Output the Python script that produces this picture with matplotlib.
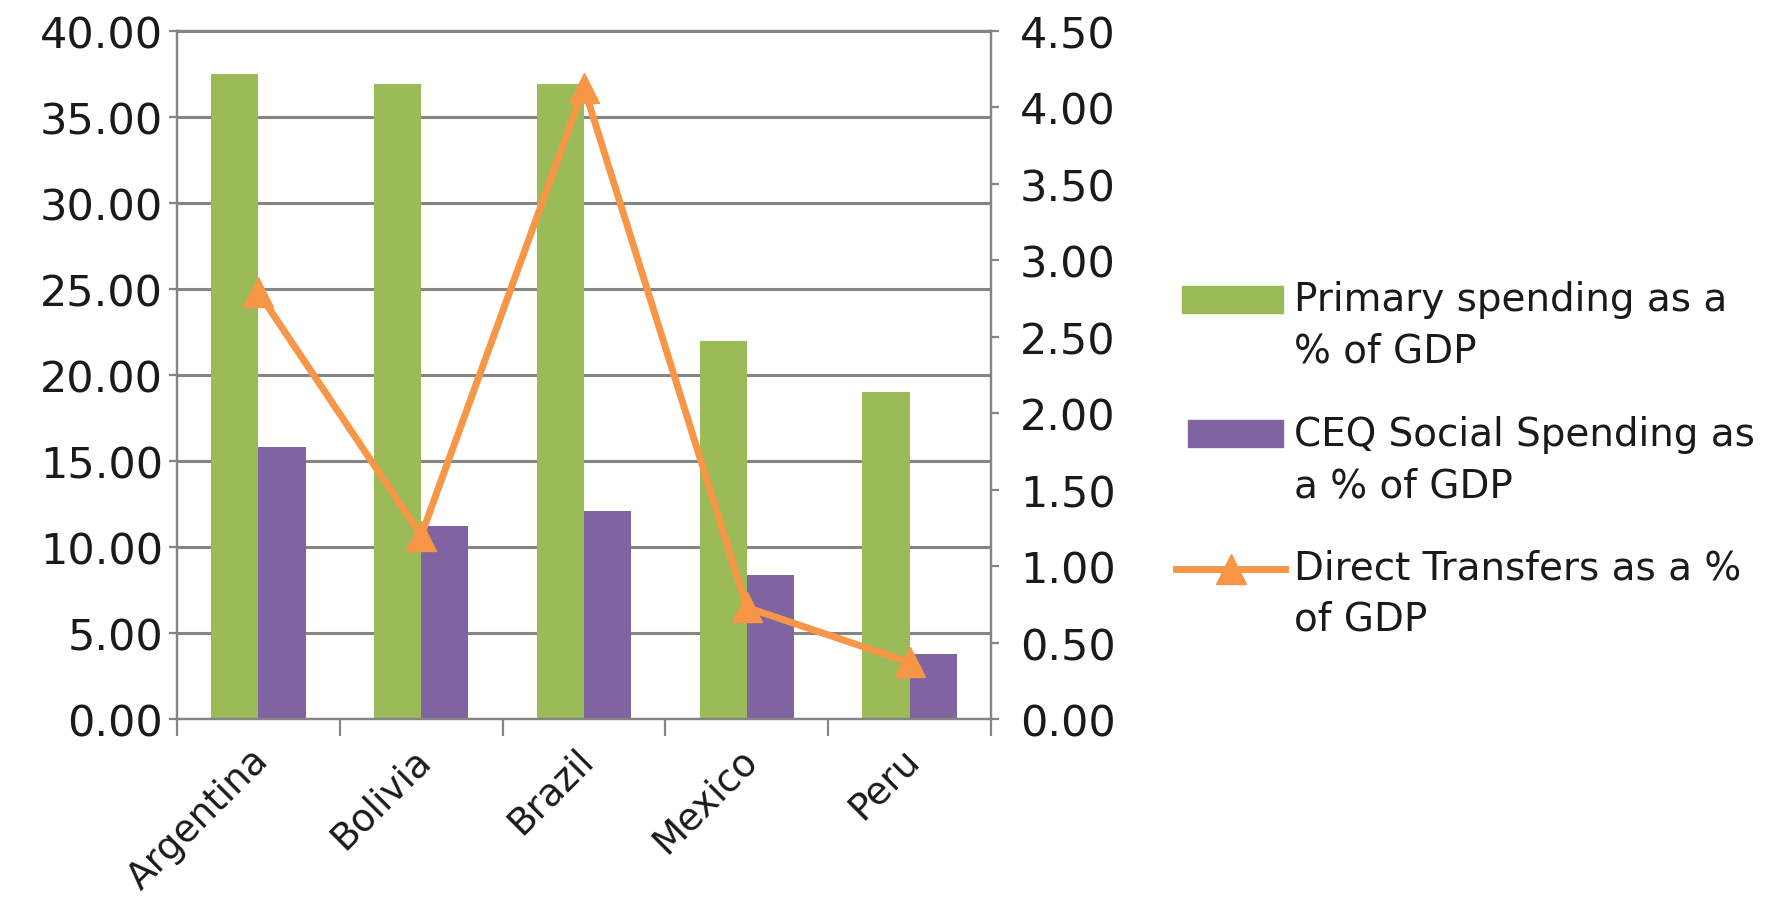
import matplotlib
matplotlib.use("Agg")
import matplotlib.pyplot as plt
from matplotlib.patches import Rectangle
from matplotlib.lines import Line2D
from matplotlib.transforms import ScaledTranslation
import numpy as np

countries = ["Argentina", "Bolivia", "Brazil", "Mexico", "Peru"]
primary_spending = [37.5, 36.9, 36.9, 22.0, 19.0]
ceq_social = [15.8, 11.2, 12.1, 8.4, 3.8]
direct_transfers = [2.79, 1.20, 4.13, 0.73, 0.37]
left_ticks = [0, 5, 10, 15, 20, 25, 30, 35, 40]
right_ticks = [0, 0.5, 1.0, 1.5, 2.0, 2.5, 3.0, 3.5, 4.0, 4.5]
legend_labels = ["Primary spending as a\n% of GDP",
                 "CEQ Social Spending as\na % of GDP",
                 "Direct Transfers as a %\nof GDP"]

GREEN = "#9BBB59"
PURPLE = "#8064A2"
ORANGE = "#F79646"
GRID = "#858585"
TXT = "#1a1a1a"

plt.rcParams["font.family"] = ["DejaVu Sans"]

fig = plt.figure(figsize=(17.91, 9.03), dpi=100)
ax = fig.add_axes([177/1791, 1-720/903, (991-177)/1791, (720-32)/903])

x = np.arange(len(countries))
w = 0.29
ax.bar(x - w/2, primary_spending, width=w, color=GREEN, zorder=2)
ax.bar(x + w/2, ceq_social, width=w, color=PURPLE, zorder=2)

ax.set_xlim(-0.5, len(countries) - 0.5)
ax.set_ylim(0, 40)
ax.set_yticks(left_ticks)
ax.set_yticklabels([f"{v:.2f}" for v in left_ticks])
ax.set_axisbelow(True)
ax.yaxis.grid(True, color=GRID, linewidth=2.2)

ax.set_xticks(x)
ax.set_xticklabels(countries, rotation=45, ha="right", rotation_mode="anchor")
ax.set_xticks(np.arange(len(countries) + 1) - 0.5, minor=True)
ax.tick_params(axis="x", which="major", length=0, pad=6, labelsize=27, labelcolor=TXT)
ax.tick_params(axis="x", which="minor", length=12, width=1.6, color=GRID, direction="out")
ax.tick_params(axis="y", length=6, width=1.6, color=GRID, pad=4, labelsize=31, labelcolor=TXT)
offset = ScaledTranslation(-6/72, -10/72, fig.dpi_scale_trans)
for lbl in ax.get_xticklabels():
    lbl.set_transform(lbl.get_transform() + offset)

for s in ["left", "bottom", "right", "top"]:
    ax.spines[s].set_color(GRID)
    ax.spines[s].set_linewidth(1.6)

ax2 = ax.twinx()
ax2.plot(x, direct_transfers, color=ORANGE, linewidth=5, marker="^",
         markersize=22, zorder=3)
ax2.set_ylim(0, 4.5)
ax2.set_yticks(right_ticks)
ax2.set_yticklabels([f"{v:.2f}" for v in right_ticks])
ax2.tick_params(axis="y", length=6, width=1.6, color=GRID, pad=15, labelsize=31, labelcolor=TXT)
for s in ["left", "bottom", "right", "top"]:
    ax2.spines[s].set_color(GRID)
    ax2.spines[s].set_linewidth(1.6)

# legend drawn in figure coordinates
W, H = 1791, 903
fig.patches.append(Rectangle((1182/W, 1-314/H), 101/W, 27/H, color=GREEN, transform=fig.transFigure))
fig.patches.append(Rectangle((1188/W, 1-448/H), 95/W, 27/H, color=PURPLE, transform=fig.transFigure))
fig.lines.append(Line2D([1176/W, 1285/W], [1-570/H, 1-570/H], color=ORANGE, linewidth=5,
                        transform=fig.transFigure))
fig.lines.append(Line2D([1231/W], [1-570/H], color=ORANGE, marker="^", markersize=22,
                        transform=fig.transFigure))
for lab, yc in zip(legend_labels, [325.5, 460.5, 594]):
    fig.text(1294/W, 1-yc/H, lab, fontsize=28, color=TXT, va="center", ha="left",
             linespacing=1.45, transform=fig.transFigure)

fig.savefig("out.png", dpi=100)
